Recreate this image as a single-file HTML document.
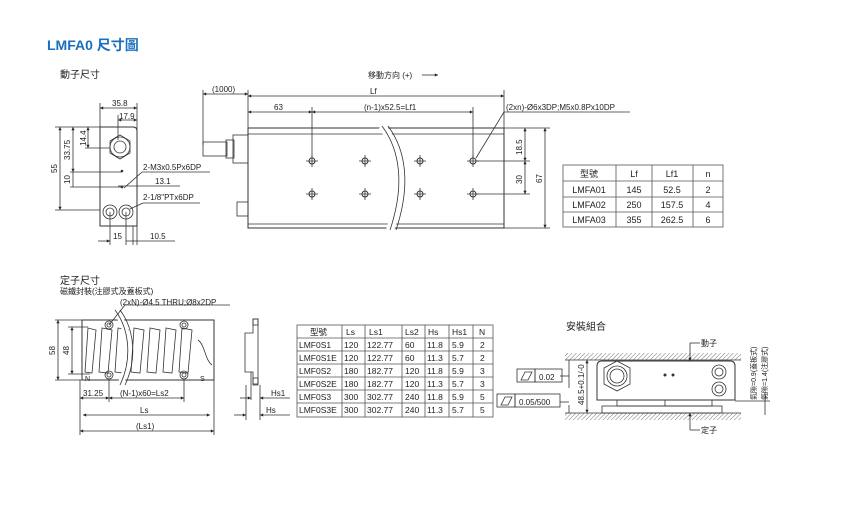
<!DOCTYPE html>
<html><head><meta charset="utf-8"><style>
html,body{margin:0;padding:0;background:#fff;}
svg{display:block}
text{font-family:"Liberation Sans","Noto Sans CJK TC",sans-serif;fill:#222;}
</style></head><body>
<svg width="850" height="507" viewBox="0 0 850 507" xmlns="http://www.w3.org/2000/svg">
<defs>
<marker id="a" viewBox="0 0 10 10" refX="10" refY="5" markerWidth="6" markerHeight="4" orient="auto-start-reverse"><path d="M0,0L10,5L0,10z" fill="#222"/></marker>
<pattern id="h" width="3" height="3" patternUnits="userSpaceOnUse" patternTransform="rotate(45)"><line x1="0" y1="0" x2="0" y2="3" stroke="#777" stroke-width="1"/></pattern>
</defs>
<g stroke="#333" stroke-width="0.8" fill="none">
<path d="M100,127 H133 Q137,127 137,131 V226 H100 Z" stroke-width="1"/>
<polygon points="120,135 130,141 130,153 120,159 110,153 110,141"/>
<circle cx="120" cy="147" r="10"/><circle cx="120" cy="147" r="6"/>
<circle cx="110" cy="212" r="7"/><circle cx="110" cy="212" r="4"/>
<circle cx="126" cy="212" r="7"/><circle cx="126" cy="212" r="4"/>
<line x1="60" y1="127" x2="60" y2="210" marker-start="url(#a)" marker-end="url(#a)"/>
<line x1="55" y1="127" x2="100" y2="127"/><line x1="55" y1="210" x2="100" y2="210"/>
<line x1="73" y1="127" x2="73" y2="172" marker-start="url(#a)" marker-end="url(#a)"/>
<line x1="73" y1="172" x2="73" y2="187"/>
<line x1="70" y1="172" x2="122" y2="172"/><line x1="70" y1="187" x2="122" y2="187"/>
<line x1="88" y1="127" x2="88" y2="148" marker-start="url(#a)" marker-end="url(#a)"/>
<line x1="85" y1="148" x2="110" y2="148"/>
<line x1="100" y1="108" x2="137" y2="108" marker-start="url(#a)" marker-end="url(#a)"/>
<line x1="100" y1="103" x2="100" y2="127"/><line x1="137" y1="103" x2="137" y2="245"/>
<line x1="118" y1="120" x2="137" y2="120" marker-start="url(#a)" marker-end="url(#a)"/>
<line x1="118" y1="115" x2="118" y2="140"/>
<line x1="124" y1="188" x2="142" y2="172"/><line x1="142" y1="172" x2="210" y2="172"/>
<line x1="130" y1="209" x2="143" y2="203"/><line x1="143" y1="203" x2="200" y2="203"/>
<line x1="118" y1="186" x2="180" y2="186"/>
<line x1="110" y1="212" x2="110" y2="245"/><line x1="126" y1="212" x2="126" y2="245"/><line x1="133" y1="226" x2="133" y2="245"/>
<line x1="98" y1="241" x2="110" y2="241" marker-end="url(#a)"/><line x1="126" y1="241" x2="137" y2="241"/>
<line x1="137" y1="241" x2="175" y2="241"/>
<rect x="248" y="128" width="256" height="100" stroke-width="1"/>
<line x1="248" y1="134" x2="504" y2="134"/><line x1="248" y1="224" x2="504" y2="224"/>
<rect x="233" y="135" width="15" height="28"/><rect x="226" y="140" width="8" height="18"/>
<rect x="203" y="142" width="24" height="14"/>
<rect x="237" y="202" width="11" height="14"/>
<path d="M382,126 C400,150 405,185 390,230" stroke="#fff" stroke-width="8"/>
<path d="M382,126 C400,150 405,185 390,230 M388,126 C406,150 411,185 396,230"/>
<g stroke-width="1">
<circle cx="312" cy="161" r="3"/><circle cx="365" cy="161" r="3"/><circle cx="420" cy="161" r="3"/><circle cx="473" cy="161" r="3"/>
<circle cx="312" cy="194" r="3"/><circle cx="365" cy="194" r="3"/><circle cx="420" cy="194" r="3"/><circle cx="473" cy="194" r="3"/>
</g>
<path d="M306,161h12M312,155v12M359,161h12M365,155v12M414,161h12M420,155v12M467,161h12M473,155v12M306,194h12M312,188v12M359,194h12M365,188v12M414,194h12M420,188v12M467,194h12M473,188v12"/>
<line x1="203" y1="94" x2="248" y2="94" marker-start="url(#a)" marker-end="url(#a)"/>
<line x1="203" y1="90" x2="203" y2="145"/><line x1="248" y1="90" x2="248" y2="128"/>
<line x1="248" y1="96" x2="504" y2="96" marker-start="url(#a)" marker-end="url(#a)"/>
<line x1="504" y1="90" x2="504" y2="128"/>
<line x1="248" y1="112" x2="312" y2="112" marker-start="url(#a)" marker-end="url(#a)"/>
<line x1="312" y1="112" x2="473" y2="112" marker-start="url(#a)" marker-end="url(#a)"/>
<line x1="312" y1="107" x2="312" y2="158"/><line x1="473" y1="107" x2="473" y2="158"/>
<line x1="476" y1="158" x2="504" y2="112"/><line x1="504" y1="112" x2="630" y2="112"/>
<line x1="476" y1="161" x2="530" y2="161"/><line x1="476" y1="194" x2="530" y2="194"/>
<line x1="504" y1="128" x2="550" y2="128"/><line x1="504" y1="228" x2="550" y2="228"/>
<line x1="525" y1="128" x2="525" y2="161" marker-start="url(#a)" marker-end="url(#a)"/>
<line x1="525" y1="161" x2="525" y2="194" marker-start="url(#a)" marker-end="url(#a)"/>
<line x1="545" y1="128" x2="545" y2="228" marker-start="url(#a)" marker-end="url(#a)"/>
<line x1="422" y1="75" x2="438" y2="75" marker-end="url(#a)"/>
<path d="M82,320 L214,320 L214,380 L82,380 Z" stroke-width="1"/>
<path d="M88,328 L96,330 L92,373 L85,372 Z M102,328 L112,330 L108,373 L99,372 Z M118,328 L128,330 L124,373 L115,372 Z M134,328 L144,330 L140,373 L131,372 Z M150,328 L160,330 L156,373 L147,372 Z M166,328 L176,330 L172,373 L163,372 Z M182,328 L192,330 L188,373 L179,372 Z"/>
<path d="M198,340 C205,345 205,360 212,365"/>
<path d="M115,310 C130,330 132,360 120,385" stroke="#fff" stroke-width="6"/>
<path d="M115,310 C130,330 132,360 120,385 M120,310 C135,330 137,360 125,385"/>
<circle cx="109" cy="325" r="4"/><circle cx="109" cy="325" r="2"/>
<circle cx="184" cy="325" r="4"/><circle cx="184" cy="325" r="2"/>
<circle cx="109" cy="375" r="4"/><circle cx="109" cy="375" r="2"/>
<circle cx="184" cy="375" r="4"/><circle cx="184" cy="375" r="2"/>
<line x1="109" y1="325" x2="125" y2="305"/><line x1="125" y1="305" x2="230" y2="305"/>
<line x1="58" y1="320" x2="58" y2="380" marker-start="url(#a)" marker-end="url(#a)"/>
<line x1="72" y1="327" x2="72" y2="374" marker-start="url(#a)" marker-end="url(#a)"/>
<line x1="55" y1="320" x2="82" y2="320"/><line x1="55" y1="380" x2="82" y2="380"/>
<line x1="68" y1="327" x2="88" y2="327"/><line x1="68" y1="374" x2="90" y2="374"/>
<line x1="80" y1="380" x2="80" y2="435"/><line x1="214" y1="380" x2="214" y2="435"/>
<line x1="80" y1="398" x2="109" y2="398" marker-start="url(#a)" marker-end="url(#a)"/>
<line x1="109" y1="398" x2="184" y2="398" marker-start="url(#a)" marker-end="url(#a)"/>
<line x1="109" y1="380" x2="109" y2="402"/><line x1="184" y1="380" x2="184" y2="402"/>
<line x1="83" y1="415" x2="210" y2="415" marker-start="url(#a)" marker-end="url(#a)"/>
<line x1="80" y1="431" x2="214" y2="431" marker-start="url(#a)" marker-end="url(#a)"/>
<path d="M245,333 H253 V319 H258 V385 H253 V372 H245 Z"/>
<rect x="253" y="319" width="5" height="6"/><rect x="253" y="378" width="5" height="6"/>
<line x1="246" y1="385" x2="246" y2="420"/><line x1="251" y1="372" x2="251" y2="400"/><line x1="260" y1="385" x2="260" y2="420"/>
<line x1="240" y1="398" x2="251" y2="398" marker-end="url(#a)"/><line x1="260" y1="398" x2="290" y2="398" marker-start="url(#a)"/>
<line x1="234" y1="415" x2="246" y2="415" marker-end="url(#a)"/><line x1="260" y1="415" x2="290" y2="415" marker-start="url(#a)"/>
<rect x="565" y="353" width="176" height="7" fill="url(#h)" stroke="none"/>
<line x1="565" y1="360" x2="741" y2="360"/>
<rect x="565" y="413" width="176" height="7" fill="url(#h)" stroke="none"/>
<line x1="565" y1="413" x2="741" y2="413"/>
<path d="M597,400 V366 Q597,361 602,361 H730 Q735,361 735,366 V400 Z" stroke-width="1"/>
<polygon points="617,361 630,368 630,384 617,391 604,384 604,368"/>
<circle cx="617" cy="376" r="10"/><circle cx="617" cy="376" r="7"/>
<circle cx="719" cy="372" r="7"/><circle cx="719" cy="372" r="4"/>
<circle cx="719" cy="389" r="7"/><circle cx="719" cy="389" r="4"/>
<rect x="617" y="400" width="95" height="6"/><line x1="665" y1="400" x2="665" y2="406"/>
<rect x="602" y="406" width="120" height="7"/>
<line x1="587" y1="360" x2="587" y2="413" marker-start="url(#a)" marker-end="url(#a)"/>
<line x1="569" y1="360" x2="569" y2="388"/><line x1="560" y1="376" x2="569" y2="376"/>
<line x1="569" y1="413" x2="569" y2="405"/><line x1="560" y1="402" x2="569" y2="402"/>
<line x1="690" y1="343" x2="690" y2="361" marker-end="url(#a)"/><line x1="690" y1="343" x2="700" y2="343"/>
<line x1="690" y1="430" x2="690" y2="413" marker-end="url(#a)"/><line x1="690" y1="430" x2="700" y2="430"/>
<line x1="735" y1="401" x2="770" y2="401"/><line x1="765" y1="392" x2="765" y2="415"/>
<rect x="517" y="369" width="18" height="13"/><rect x="535" y="369" width="27" height="13"/>
<path d="M521,380 L525,372 L532,372 L528,380 Z"/>
<rect x="497" y="394" width="18" height="13"/><rect x="515" y="394" width="45" height="13"/>
<path d="M501,405 L505,397 L512,397 L508,405 Z"/>
</g>
<g fill="#333"><circle cx="665" cy="375" r="1.5"/><circle cx="673" cy="375" r="1.5"/><circle cx="122" cy="171" r="1.3"/><circle cx="122" cy="187" r="1.3"/></g>
<g stroke="#555" stroke-width="0.8" fill="none">
<rect x="563" y="165" width="160" height="62"/>
<path d="M563,181H723M563,197H723M563,212H723M616,165V227M652,165V227M693,165V227"/>
<rect x="297" y="325" width="196" height="92"/>
<path d="M297,338H493M297,351H493M297,364H493M297,377H493M297,390H493M297,403H493M342,325V417M365,325V417M402,325V417M425,325V417M449,325V417M473,325V417"/>
</g>
<text x="47" y="50" font-size="14" font-weight="bold" style="fill:#1a6fc0">LMFA0 尺寸圖</text>
<g font-size="10">
<text x="60" y="78">動子尺寸</text>
<text x="368" y="78" font-size="8">移動方向 (+)</text>
<text x="112" y="106" font-size="8">35.8</text>
<text x="119" y="119" font-size="8">17.9</text>
<text x="57" y="173" font-size="8" transform="rotate(-90 57 173)">55</text>
<text x="70" y="160" font-size="8" transform="rotate(-90 70 160)">33.75</text>
<text x="70" y="184" font-size="8" transform="rotate(-90 70 184)">10</text>
<text x="86" y="146" font-size="8" transform="rotate(-90 86 146)">14.4</text>
<text x="143" y="170" font-size="8">2-M3x0.5Px6DP</text>
<text x="155" y="184" font-size="8">13.1</text>
<text x="143" y="200" font-size="8">2-1/8"PTx6DP</text>
<text x="113" y="239" font-size="8">15</text>
<text x="150" y="239" font-size="8">10.5</text>
<text x="212" y="92" font-size="8">(1000)</text>
<text x="370" y="94" font-size="8">Lf</text>
<text x="274" y="110" font-size="8">63</text>
<text x="364" y="110" font-size="8">(n-1)x52.5=Lf1</text>
<text x="506" y="110" font-size="8">(2xn)-Ø6x3DP;M5x0.8Px10DP</text>
<text x="522" y="155" font-size="8" transform="rotate(-90 522 155)">18.5</text>
<text x="522" y="184" font-size="8" transform="rotate(-90 522 184)">30</text>
<text x="542" y="183" font-size="8" transform="rotate(-90 542 183)">67</text>
<text x="60" y="284">定子尺寸</text>
<text x="60" y="294" font-size="8">磁鐵封裝(注膠式及蓋板式)</text>
<text x="120" y="305" font-size="8">(2xN)-Ø4.5 THRU;Ø8x2DP</text>
<text x="55" y="355" font-size="8" transform="rotate(-90 55 355)">58</text>
<text x="69" y="355" font-size="8" transform="rotate(-90 69 355)">48</text>
<text x="85" y="381" font-size="7">N</text><text x="200" y="381" font-size="7">S</text>
<text x="83" y="396" font-size="8">31.25</text>
<text x="120" y="396" font-size="8">(N-1)x60=Ls2</text>
<text x="140" y="413" font-size="8">Ls</text>
<text x="136" y="429" font-size="8">(Ls1)</text>
<text x="271" y="396" font-size="8">Hs1</text>
<text x="266" y="413" font-size="8">Hs</text>
<text x="566" y="330">安裝組合</text>
<text x="701" y="346" font-size="8">動子</text>
<text x="701" y="433" font-size="8">定子</text>
<text x="539" y="380" font-size="8">0.02</text>
<text x="519" y="405" font-size="8">0.05/500</text>
<text x="584" y="405" font-size="8" transform="rotate(-90 584 405)">48.5+0.1/-0</text>
<text x="756" y="400" font-size="7" transform="rotate(-90 756 400)">氣隙=0.9(蓋板式)</text>
<text x="767" y="400" font-size="7" transform="rotate(-90 767 400)">氣隙=1.4(注膠式)</text>
</g>
<g font-size="9" text-anchor="middle">
<text x="589" y="177">型號</text><text x="634" y="177">Lf</text><text x="672" y="177">Lf1</text><text x="708" y="177">n</text>
<text x="589" y="193">LMFA01</text><text x="634" y="193">145</text><text x="672" y="193">52.5</text><text x="708" y="193">2</text>
<text x="589" y="208">LMFA02</text><text x="634" y="208">250</text><text x="672" y="208">157.5</text><text x="708" y="208">4</text>
<text x="589" y="223">LMFA03</text><text x="634" y="223">355</text><text x="672" y="223">262.5</text><text x="708" y="223">6</text>
</g>
<g font-size="8.5">
<text x="310" y="335">型號</text><text x="346" y="335">Ls</text><text x="369" y="335">Ls1</text><text x="405" y="335">Ls2</text><text x="428" y="335">Hs</text><text x="452" y="335">Hs1</text><text x="479" y="335">N</text>
<text x="299" y="348">LMF0S1</text><text x="344" y="348">120</text><text x="367" y="348">122.77</text><text x="405" y="348">60</text><text x="427" y="348">11.8</text><text x="452" y="348">5.9</text><text x="480" y="348">2</text>
<text x="299" y="361">LMF0S1E</text><text x="344" y="361">120</text><text x="367" y="361">122.77</text><text x="405" y="361">60</text><text x="427" y="361">11.3</text><text x="452" y="361">5.7</text><text x="480" y="361">2</text>
<text x="299" y="374">LMF0S2</text><text x="344" y="374">180</text><text x="367" y="374">182.77</text><text x="405" y="374">120</text><text x="427" y="374">11.8</text><text x="452" y="374">5.9</text><text x="480" y="374">3</text>
<text x="299" y="387">LMF0S2E</text><text x="344" y="387">180</text><text x="367" y="387">182.77</text><text x="405" y="387">120</text><text x="427" y="387">11.3</text><text x="452" y="387">5.7</text><text x="480" y="387">3</text>
<text x="299" y="400">LMF0S3</text><text x="344" y="400">300</text><text x="367" y="400">302.77</text><text x="405" y="400">240</text><text x="427" y="400">11.8</text><text x="452" y="400">5.9</text><text x="480" y="400">5</text>
<text x="299" y="413">LMF0S3E</text><text x="344" y="413">300</text><text x="367" y="413">302.77</text><text x="405" y="413">240</text><text x="427" y="413">11.3</text><text x="452" y="413">5.7</text><text x="480" y="413">5</text>
</g>
</svg>
</body></html>
